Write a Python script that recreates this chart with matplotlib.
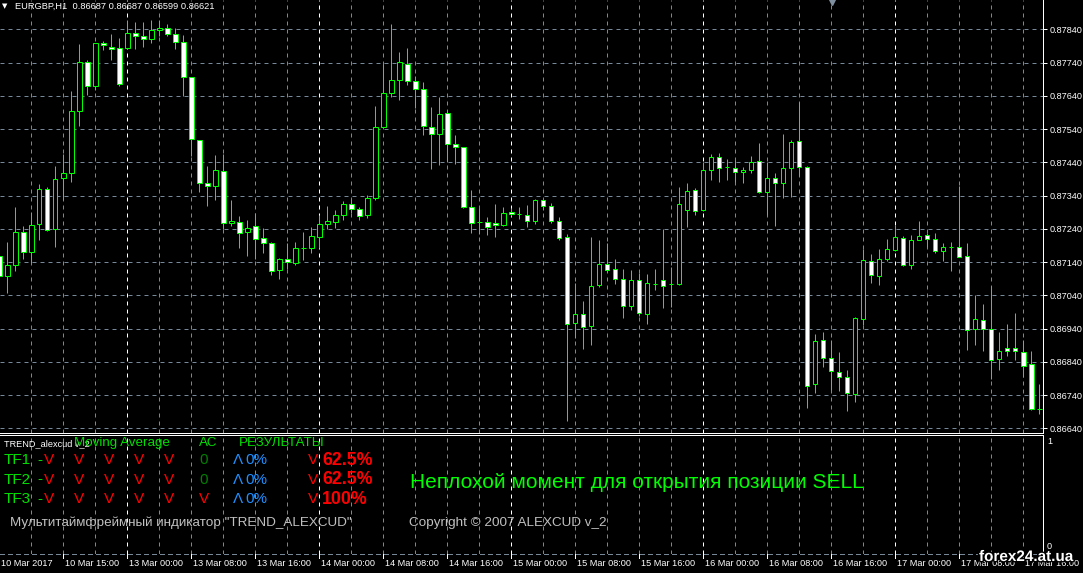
import matplotlib
matplotlib.use("Agg")
import matplotlib.pyplot as plt
from matplotlib import patheffects

W, H, DPI = 1083, 573, 100

# EURGBP H1 candles (bar 0 = 10 Mar 2017 07:00)
opens = [0.87158, 0.87098, 0.87132, 0.87231, 0.87171, 0.87255, 0.87360, 0.87240, 0.87393, 0.87408,
         0.87594, 0.87741, 0.87668, 0.87798, 0.87788, 0.87783, 0.87785, 0.87828, 0.87819, 0.87812,
         0.87837, 0.87843, 0.87826, 0.87801, 0.87696, 0.87507, 0.87378, 0.87368, 0.87414, 0.87258,
         0.87260, 0.87231, 0.87248, 0.87212, 0.87198, 0.87116, 0.87149, 0.87138, 0.87183, 0.87182,
         0.87215, 0.87254, 0.87261, 0.87283, 0.87315, 0.87300, 0.87281, 0.87333, 0.87546, 0.87648,
         0.87689, 0.87735, 0.87684, 0.87660, 0.87546, 0.87525, 0.87587, 0.87495, 0.87486, 0.87306,
         0.87261, 0.87260, 0.87258, 0.87251, 0.87291, 0.87284, 0.87282, 0.87264, 0.87328, 0.87309,
         0.87264, 0.87216, 0.86958, 0.86985, 0.86948, 0.87070, 0.87133, 0.87118, 0.87090, 0.87008,
         0.87087, 0.86984, 0.87074, 0.87087, 0.87073, 0.87074, 0.87298, 0.87357, 0.87296, 0.87416,
         0.87456, 0.87426, 0.87423, 0.87411, 0.87416, 0.87444, 0.87350, 0.87393, 0.87378, 0.87423,
         0.87504, 0.87426, 0.86772, 0.86906, 0.86852, 0.86808, 0.86793, 0.86742, 0.86970, 0.87144,
         0.87098, 0.87150, 0.87176, 0.87213, 0.87132, 0.87207, 0.87222, 0.87210, 0.87174, 0.87184,
         0.87186, 0.87158, 0.86940, 0.86967, 0.86940, 0.86849, 0.86880, 0.86880, 0.86868, 0.86832,
         0.86697]
highs = [0.87165, 0.87201, 0.87306, 0.87248, 0.87290, 0.87376, 0.87366, 0.87430, 0.87465, 0.87655,
         0.87796, 0.87748, 0.87800, 0.87805, 0.87826, 0.87815, 0.87868, 0.87862, 0.87862, 0.87868,
         0.87868, 0.87856, 0.87843, 0.87823, 0.87698, 0.87508, 0.87430, 0.87463, 0.87466, 0.87328,
         0.87278, 0.87265, 0.87288, 0.87243, 0.87201, 0.87152, 0.87196, 0.87199, 0.87231, 0.87246,
         0.87283, 0.87308, 0.87298, 0.87325, 0.87331, 0.87305, 0.87343, 0.87610, 0.87736, 0.87856,
         0.87773, 0.87783, 0.87700, 0.87681, 0.87607, 0.87637, 0.87596, 0.87523, 0.87487, 0.87358,
         0.87303, 0.87276, 0.87316, 0.87306, 0.87303, 0.87306, 0.87313, 0.87330, 0.87331, 0.87319,
         0.87276, 0.87223, 0.87076, 0.87022, 0.87215, 0.87205, 0.87196, 0.87148, 0.87118, 0.87115,
         0.87106, 0.87103, 0.87118, 0.87238, 0.87124, 0.87366, 0.87379, 0.87363, 0.87440, 0.87466,
         0.87468, 0.87450, 0.87448, 0.87425, 0.87458, 0.87498, 0.87441, 0.87407, 0.87525, 0.87506,
         0.87620, 0.87430, 0.86925, 0.86931, 0.86907, 0.86868, 0.86815, 0.86976, 0.87178, 0.87165,
         0.87180, 0.87210, 0.87250, 0.87218, 0.87220, 0.87262, 0.87228, 0.87226, 0.87196, 0.87199,
         0.87368, 0.87196, 0.87041, 0.87015, 0.87068, 0.86931, 0.86955, 0.86988, 0.86906, 0.86871,
         0.86772]
lows = [0.87080, 0.87046, 0.87113, 0.87148, 0.87138, 0.87206, 0.87233, 0.87185, 0.87328, 0.87380,
        0.87548, 0.87643, 0.87658, 0.87778, 0.87748, 0.87670, 0.87783, 0.87781, 0.87788, 0.87800,
        0.87820, 0.87820, 0.87781, 0.87638, 0.87458, 0.87350, 0.87308, 0.87328, 0.87240, 0.87248,
        0.87181, 0.87158, 0.87148, 0.87168, 0.87101, 0.87089, 0.87118, 0.87131, 0.87145, 0.87166,
        0.87181, 0.87240, 0.87243, 0.87266, 0.87288, 0.87265, 0.87271, 0.87328, 0.87546, 0.87635,
        0.87626, 0.87672, 0.87603, 0.87521, 0.87420, 0.87431, 0.87441, 0.87435, 0.87303, 0.87226,
        0.87224, 0.87220, 0.87215, 0.87248, 0.87278, 0.87268, 0.87246, 0.87255, 0.87298, 0.87258,
        0.87206, 0.86663, 0.86911, 0.86878, 0.86890, 0.87066, 0.87110, 0.87074, 0.86971, 0.86995,
        0.86978, 0.86953, 0.87056, 0.87001, 0.87005, 0.87072, 0.87245, 0.87283, 0.87293, 0.87386,
        0.87380, 0.87388, 0.87380, 0.87377, 0.87408, 0.87348, 0.87280, 0.87248, 0.87333, 0.87335,
        0.87400, 0.86701, 0.86746, 0.86823, 0.86755, 0.86751, 0.86691, 0.86720, 0.86950, 0.87077,
        0.87071, 0.87143, 0.87173, 0.87128, 0.87118, 0.87207, 0.87185, 0.87168, 0.87142, 0.87113,
        0.87154, 0.86876, 0.86891, 0.86873, 0.86788, 0.86816, 0.86858, 0.86844, 0.86793, 0.86696,
        0.86683]
closes = [0.87098, 0.87132, 0.87231, 0.87171, 0.87252, 0.87360, 0.87236, 0.87390, 0.87408, 0.87594,
          0.87741, 0.87668, 0.87798, 0.87792, 0.87780, 0.87675, 0.87828, 0.87819, 0.87812, 0.87838,
          0.87844, 0.87827, 0.87803, 0.87696, 0.87510, 0.87378, 0.87368, 0.87417, 0.87258, 0.87264,
          0.87228, 0.87243, 0.87210, 0.87198, 0.87114, 0.87149, 0.87141, 0.87183, 0.87183, 0.87219,
          0.87255, 0.87264, 0.87282, 0.87315, 0.87300, 0.87278, 0.87333, 0.87546, 0.87648, 0.87687,
          0.87741, 0.87684, 0.87660, 0.87548, 0.87525, 0.87585, 0.87495, 0.87486, 0.87306, 0.87258,
          0.87260, 0.87246, 0.87251, 0.87288, 0.87284, 0.87284, 0.87264, 0.87328, 0.87308, 0.87262,
          0.87213, 0.86955, 0.86985, 0.86945, 0.87069, 0.87133, 0.87117, 0.87089, 0.87008, 0.87087,
          0.86987, 0.87078, 0.87074, 0.87068, 0.87075, 0.87315, 0.87354, 0.87294, 0.87417, 0.87456,
          0.87423, 0.87425, 0.87411, 0.87418, 0.87441, 0.87350, 0.87393, 0.87378, 0.87423, 0.87501,
          0.87426, 0.86768, 0.86903, 0.86850, 0.86811, 0.86793, 0.86745, 0.86973, 0.87147, 0.87102,
          0.87150, 0.87178, 0.87216, 0.87132, 0.87207, 0.87219, 0.87210, 0.87174, 0.87186, 0.87184,
          0.87156, 0.86937, 0.86970, 0.86940, 0.86846, 0.86871, 0.86871, 0.86871, 0.86828, 0.86698,
          0.86699]

price_ticks = [0.86640, 0.86740, 0.86840, 0.86940, 0.87040, 0.87140, 0.87240,
               0.87340, 0.87440, 0.87540, 0.87640, 0.87740, 0.87840]
date_bars = [0, 8, 16, 24, 32, 40, 48, 56, 64, 72, 80, 88, 96, 104, 112, 120, 128]
date_labels = ["10 Mar 2017", "10 Mar 15:00", "13 Mar 00:00", "13 Mar 08:00", "13 Mar 16:00",
               "14 Mar 00:00", "14 Mar 08:00", "14 Mar 16:00", "15 Mar 00:00", "15 Mar 08:00",
               "15 Mar 16:00", "16 Mar 00:00", "16 Mar 08:00", "16 Mar 16:00", "17 Mar 00:00",
               "17 Mar 08:00", "17 Mar 16:00"]
day_starts = [16, 40, 64, 88, 112]

FONT = "Liberation Sans"
GRID = "#778899"
LIME = "#00ff00"
PX = 72.0 / DPI  # one pixel in points

plt.rcParams["font.family"] = [FONT, "DejaVu Sans"]


def box(x0, y0, x1, y1):
    """pixel box (top-left origin) -> figure fraction rect"""
    return [x0 / W, 1 - y1 / H, (x1 - x0) / W, (y1 - y0) / H]


def ptext(x, y, s, **kw):
    kw.setdefault("va", "center")
    kw.setdefault("ha", "left")
    fig.text(x / W, 1 - y / H, s, **kw)


def price_at(y):
    # 0.87840 sits at y=29.3 px, 33.25 px per 0.001
    return 0.87840 - (y - 29.3) / 33250.0


def bar_at(x):
    return (x + 0.7) / 8.0


fig = plt.figure(figsize=(W / DPI, H / DPI), dpi=DPI, facecolor="black")
ax = fig.add_axes(box(0, 0, 1043, 433))
sub = fig.add_axes(box(0, 435, 1043, 554))

for a in (ax, sub):
    a.set_facecolor("black")
    a.set_xlim(bar_at(0), bar_at(1043))
    a.set_xticks([])
    for s in ("top", "left", "bottom"):
        a.spines[s].set_visible(False)
    a.spines["right"].set_color("white")
    a.spines["right"].set_linewidth(PX)
    for i in range(4, 131, 4):
        white = i in day_starts
        a.axvline(i, color="white" if white else GRID, lw=PX,
                  ls=(0, (4, 4)), zorder=0)

ax.set_ylim(price_at(433), price_at(0))
ax.spines["bottom"].set_visible(True)
ax.spines["bottom"].set_color("white")
ax.spines["bottom"].set_linewidth(PX)
for p in price_ticks:
    ax.axhline(p, color=GRID, lw=PX, ls=(0, (4, 4)), zorder=0)

ax.yaxis.tick_right()
ax.set_yticks(price_ticks)
ax.set_yticklabels([f"{p:.5f}" for p in price_ticks])
ax.tick_params(axis="y", length=3, width=PX, color="white", pad=1.5,
               labelsize=6.6, labelcolor="white")

# candles: white body = bear, black body = bull
n = len(opens)
idx = list(range(n))
ax.vlines(idx, lows, highs, color=LIME, lw=PX, zorder=2)
bottoms = [min(o, c) for o, c in zip(opens, closes)]
heights = [abs(c - o) for o, c in zip(opens, closes)]
faces = ["white" if c < o else "black" for o, c in zip(opens, closes)]
ax.bar(idx, heights, bottom=bottoms, width=0.55, color=faces,
       edgecolor=LIME, linewidth=PX, zorder=3)

# shift marker
ax.plot([bar_at(832)], [price_at(1.5)], marker="v", ms=5, color="#8090a0",
        clip_on=False, zorder=5)

# subwindow
sub.set_ylim(0, 1)
sub.set_yticks([])
sub.spines["top"].set_visible(True)
sub.spines["top"].set_color("white")
sub.spines["top"].set_linewidth(PX)
sub.spines["bottom"].set_visible(True)
sub.spines["bottom"].set_color(GRID)
sub.spines["bottom"].set_linewidth(PX)
sub.spines["bottom"].set_linestyle((0, (4, 4)))
ptext(1047, 441.5, "1", fontsize=6.6, color="white")
ptext(1047, 546.5, "0", fontsize=6.6, color="white")

# date axis
for b, lab in zip(date_bars, date_labels):
    x = 8 * b - 0.7
    if b > 0:
        fig.add_artist(plt.Line2D([x / W, x / W], [1 - 554 / H, 1 - 558 / H],
                                  color="white", lw=PX))
    ptext(max(x + 1.5, 0), 563, lab, fontsize=6.6, color="white")

ptext(979, 557, "forex24.at.ua", fontsize=11, fontweight="bold", color="white",
      path_effects=[patheffects.withStroke(linewidth=2, foreground="black")])

# title
ptext(2, 6.5, "\u25bc", fontsize=5, color="white", family="DejaVu Sans")
ptext(15, 6.5, "EURGBP,H1  0.86687 0.86687 0.86599 0.86621", fontsize=6.7, color="white")

# indicator text
GREEN = "#00e000"
ptext(4, 443.3, "TREND_alexcud v_2", fontsize=6.6, color="white")
ptext(74, 443.3, "Moving Average", fontsize=9.6, color=GREEN)
ptext(199, 443.3, "AC", fontsize=9.6, color=GREEN)
ptext(239, 443.3, "РЕЗУЛЬТАТЫ", fontsize=9.6, color=GREEN)

rows_y = [460, 479.5, 499]
ac_marks = ["0", "0", "V"]
results = ["62.5%", "62.5%", "100%"]
for k, y in enumerate(rows_y):
    ptext(4, y, f"TF{k + 1}", fontsize=11, color=GREEN)
    ptext(37, y, "-", fontsize=11, color=GREEN)
    for xc in (49, 79, 109, 139, 169):
        ptext(xc, y, "V", fontsize=11, color="red", ha="center")
    if ac_marks[k] == "0":
        ptext(204, y, "0", fontsize=11, color="#008000", ha="center")
    else:
        ptext(204, y, "V", fontsize=11, color="red", ha="center")
    ptext(233, y, "Λ", fontsize=11, color="#1e90ff")
    ptext(245, y, "0%", fontsize=11, color="#1e90ff")
    ptext(313, y, "V", fontsize=11, color="red", ha="center")
    ptext(322, y + 0.5, results[k], fontsize=12.8, color="red", fontweight="bold")

ptext(410, 482.3, "Неплохой момент для открытия позиции SELL", fontsize=15, color=LIME)
ptext(10, 522.7, "Мультитаймфреймный индикатор \"TREND_ALEXCUD\"", fontsize=9.7,
      color="#c0c0c0")
ptext(409, 522.7, "Copyright © 2007 ALEXCUD v_2", fontsize=9.7, color="#c0c0c0")

fig.savefig("out.png", dpi=DPI, facecolor="black")
